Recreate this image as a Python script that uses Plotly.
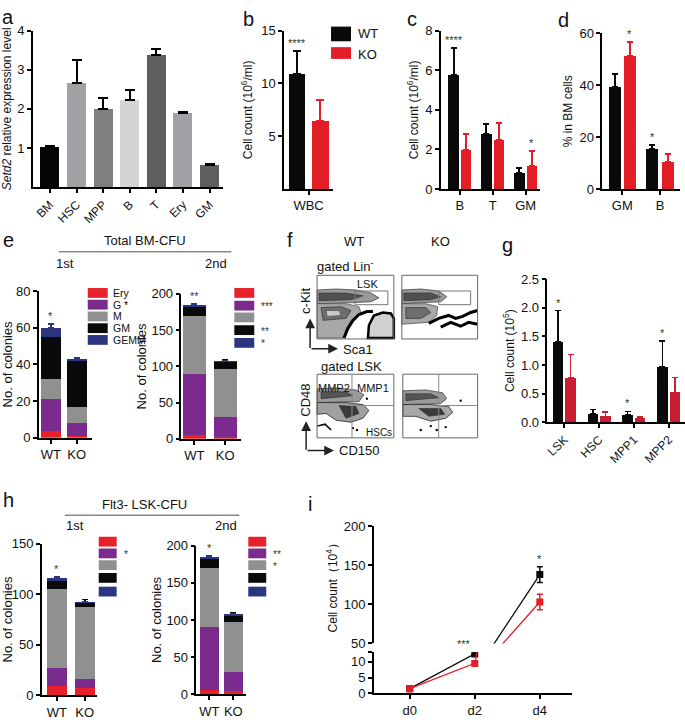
import plotly.graph_objects as go

W, H = 685, 722
FONT = "Arial, Liberation Sans, sans-serif"
RED = "#e41e26"
RED_G = "#c81e32"
BLACK = "#0a0a0a"
PURPLE = "#7b2b8d"
GRAY_M = "#909090"
NAVY = "#2c3680"
ERY = "#e8202a"

# ---------------- data ----------------
a_cats = ["BM", "HSC", "MPP", "B", "T", "Ery", "GM"]
a_vals = [1.02, 2.65, 2.0, 2.22, 3.37, 1.9, 0.57]
a_err = [0.03, 0.6, 0.28, 0.25, 0.17, 0.03, 0.03]
a_colors = ["#050505", "#a2a2a6", "#7f7f7f", "#d4d4d4", "#5e5e5e", "#a2a2a6", "#5e5e5e"]

b_cats = ["WBC"]
b_wt = [10.9]
b_wt_err = [2.2]
b_ko = [6.4]
b_ko_err = [2.0]

c_cats = ["B", "T", "GM"]
c_wt = [5.75, 2.77, 0.82]
c_wt_err = [1.35, 0.5, 0.26]
c_ko = [1.98, 2.5, 1.17]
c_ko_err = [0.82, 0.85, 0.73]

d_cats = ["GM", "B"]
d_wt = [39.2, 15.5]
d_wt_err = [5.3, 1.5]
d_ko = [51.3, 10.4]
d_ko_err = [5.4, 3.1]

cfu_types = ["Ery", "G", "M", "GM", "GEMM"]
geno = ["WT", "KO"]
e1_wt = [4, 17, 11, 23, 5]
e1_ko = [1, 7, 9, 25, 1]
e1_wt_err = [3, 4, 3, 2, 2]
e1_ko_err = [0.5, 1, 3, 1.5, 0.5]
e2_wt = [5, 85, 80, 13, 2]
e2_ko = [3, 27, 67, 10, 0.5]
e2_wt_err = [3, 3, 5, 2, 1]
e2_ko_err = [1, 8, 2, 2, 0.5]

g_cats = ["LSK", "HSC", "MPP1", "MPP2"]
g_wt = [1.4, 0.14, 0.13, 0.97]
g_wt_err = [0.55, 0.08, 0.06, 0.45]
g_ko = [0.78, 0.1, 0.07, 0.52]
g_ko_err = [0.4, 0.08, 0.03, 0.26]

h1_wt = [9, 18, 78, 8, 3]
h1_ko = [7, 9, 71, 5, 0.5]
h1_wt_err = [2, 5, 2, 4, 1]
h1_ko_err = [1, 2, 2, 3, 0.5]
h2_wt = [6, 84, 80, 13, 2]
h2_ko = [4, 26, 67, 10, 0.5]
h2_wt_err = [3, 4, 6, 2, 1]
h2_ko_err = [1, 9, 2, 3, 0.5]

i_days = ["d0", "d2", "d4"]
i_wt = [1.5, 12.5, 138]
i_wt_err = [0.3, 0.5, 10]
i_ko = [1.5, 9.5, 103]
i_ko_err = [0.3, 0.5, 10]

cfu_colors = [ERY, PURPLE, GRAY_M, BLACK, NAVY]

# ---------------- helpers ----------------
fig = go.Figure()
axes = {}
shapes = []
annos = []


def PX(x):
    return x / W


def PY(y):
    return 1 - y / H


def axis_style(**kw):
    d = dict(showline=True, linecolor="black", linewidth=1.5, ticks="outside",
             ticklen=4, tickwidth=1.5, tickcolor="black", showgrid=False,
             zeroline=False, tickfont=dict(size=12, color="#111"), fixedrange=True,
             title_font=dict(size=12, color="#111"))
    d.update(kw)
    return d


def panel(n, xpx, ypx, xrange, yrange, xkw=None, ykw=None):
    xs = "" if n == 1 else str(n)
    axes["xaxis" + xs] = axis_style(domain=[PX(xpx[0]), PX(xpx[1])], range=xrange,
                                    anchor="y" + xs, **(xkw or {}))
    axes["yaxis" + xs] = axis_style(domain=[PY(ypx[1]), PY(ypx[0])], range=yrange,
                                    anchor="x" + xs, **(ykw or {}))
    return "x" + xs, "y" + xs


def err(arr, color, th=1.5, w=3):
    return dict(type="data", array=arr, arrayminus=[0] * len(arr), symmetric=False,
                color=color, thickness=th, width=w)


def star(xa, ya, x, y, text, size=11):
    annos.append(dict(x=x, y=y, xref=xa, yref=ya, text=text, showarrow=False,
                      yanchor="bottom", yshift=0, font=dict(size=size, color="#333")))


def label(x, y, text, size=12, xanchor="center", yanchor="middle", angle=0, color="#111"):
    annos.append(dict(x=PX(x), y=PY(y), xref="paper", yref="paper", text=text,
                      showarrow=False, xanchor=xanchor, yanchor=yanchor,
                      textangle=angle, font=dict(size=size, color=color)))


def rect(x0, y0, x1, y1, fill=None, line="black", lw=1):
    shapes.append(dict(type="rect", xref="paper", yref="paper", x0=PX(x0), x1=PX(x1),
                       y0=PY(y0), y1=PY(y1), fillcolor=fill or "rgba(0,0,0,0)",
                       line=dict(color=line, width=lw)))


def line(x0, y0, x1, y1, color="black", lw=1):
    shapes.append(dict(type="line", xref="paper", yref="paper", x0=PX(x0), x1=PX(x1),
                       y0=PY(y0), y1=PY(y1), line=dict(color=color, width=lw)))


def poly(pts, fill=None, color="black", lw=1, closed=True):
    path = "M " + " L ".join(f"{PX(x):.5f},{PY(y):.5f}" for x, y in pts)
    if closed:
        path += " Z"
    shapes.append(dict(type="path", xref="paper", yref="paper", path=path,
                       fillcolor=fill if (fill and closed) else "rgba(0,0,0,0)",
                       line=dict(color=color, width=lw)))


def dot(x, y, r=1.2):
    shapes.append(dict(type="circle", xref="paper", yref="paper", x0=PX(x - r), x1=PX(x + r),
                       y0=PY(y + r), y1=PY(y - r), fillcolor="black", line=dict(width=0)))


def arrow(x0, y0, x1, y1):
    annos.append(dict(x=PX(x1), y=PY(y1), ax=x0 - x1, ay=y0 - y1, xref="paper", yref="paper",
                      axref="pixel", ayref="pixel", text="", showarrow=True,
                      arrowhead=2, arrowsize=1.3, arrowwidth=1.5, arrowcolor="#222"))


# ---------------- panel a ----------------
xa, ya = panel(1, (31, 222), (24, 184), [-0.64, 6.52], [0, 4],
               xkw=dict(tickvals=list(range(len(a_cats))), ticktext=a_cats, tickangle=-45),
               ykw=dict(tickvals=[1, 2, 3, 4], tickfont=dict(size=13),
                        title=dict(text="<i>Setd2</i> relative expression level", standoff=6)))
fig.add_trace(go.Bar(x=list(range(len(a_cats))), y=a_vals, width=0.71, marker_color=a_colors,
                     marker_line_width=0, error_y=err(a_err, "black", 2, 5),
                     xaxis=xa, yaxis=ya, showlegend=False))

# ---------------- panel b ----------------
xb, yb = panel(2, (283, 332), (24, 186), [-0.55, 0.55], [0, 15],
               xkw=dict(tickvals=[0], ticktext=b_cats, tickfont=dict(size=13)),
               ykw=dict(tickvals=[5, 10, 15], tickfont=dict(size=13),
                        title=dict(text="Cell count (10<sup>6</sup>/ml)", standoff=6)))
fig.add_trace(go.Bar(x=[-0.26], y=b_wt, width=0.38, marker_color=BLACK, marker_line_width=0,
                     error_y=err(b_wt_err, BLACK, 2, 4), xaxis=xb, yaxis=yb, showlegend=False))
fig.add_trace(go.Bar(x=[0.26], y=b_ko, width=0.38, marker_color=RED, marker_line_width=0,
                     error_y=err(b_ko_err, RED, 2, 4), xaxis=xb, yaxis=yb, showlegend=False))
star(xb, yb, -0.26, b_wt[0] + b_wt_err[0], "****")
rect(330, 20, 350, 35, fill=BLACK, line=BLACK, lw=0)
rect(330, 41, 350, 53, fill=RED, line=RED, lw=0)
label(355, 27, "WT", 13, xanchor="left")
label(355, 48, "KO", 13, xanchor="left")

# ---------------- panel c ----------------
xc, yc = panel(3, (440, 540), (24, 186), [-0.58, 2.45], [0, 8],
               xkw=dict(tickvals=[0, 1, 2], ticktext=c_cats, tickfont=dict(size=13)),
               ykw=dict(tickvals=[0, 2, 4, 6, 8], tickfont=dict(size=13),
                        title=dict(text="Cell count (10<sup>6</sup>/ml)", standoff=4)))
cx = list(range(len(c_cats)))
fig.add_trace(go.Bar(x=[i - 0.19 for i in cx], y=c_wt, width=0.32, marker_color=BLACK,
                     marker_line_width=0, error_y=err(c_wt_err, BLACK, 2, 3),
                     xaxis=xc, yaxis=yc, showlegend=False))
fig.add_trace(go.Bar(x=[i + 0.19 for i in cx], y=c_ko, width=0.32, marker_color=RED,
                     marker_line_width=0, error_y=err(c_ko_err, RED, 2, 3),
                     xaxis=xc, yaxis=yc, showlegend=False))
star(xc, yc, -0.19, c_wt[0] + c_wt_err[0], "****")
star(xc, yc, 2.19, c_ko[2] + c_ko_err[2], "*")

# ---------------- panel d ----------------
xd, yd = panel(4, (602, 680), (27, 186), [-0.53, 1.53], [0, 60],
               xkw=dict(tickvals=[0, 1], ticktext=d_cats, tickfont=dict(size=13)),
               ykw=dict(tickvals=[0, 20, 40, 60], tickfont=dict(size=13),
                        title=dict(text="% in BM cells", standoff=4)))
dx = list(range(len(d_cats)))
fig.add_trace(go.Bar(x=[i - 0.2 for i in dx], y=d_wt, width=0.32, marker_color=BLACK,
                     marker_line_width=0, error_y=err(d_wt_err, BLACK, 2, 3),
                     xaxis=xd, yaxis=yd, showlegend=False))
fig.add_trace(go.Bar(x=[i + 0.2 for i in dx], y=d_ko, width=0.32, marker_color=RED,
                     marker_line_width=0, error_y=err(d_ko_err, RED, 2, 3),
                     xaxis=xd, yaxis=yd, showlegend=False))
star(xd, yd, 0.2, d_ko[0] + d_ko_err[0], "*")
star(xd, yd, 0.8, d_wt[1] + d_wt_err[1], "*")


# ---------------- stacked CFU panels ----------------
def stacked(n, xpx, ypx, xr, yr, ytv, wt, ko, wt_err, ko_err, width, top_star):
    xs, ys = panel(n, xpx, ypx, xr, yr,
                   xkw=dict(tickvals=[0, 1], ticktext=geno, tickfont=dict(size=13)),
                   ykw=dict(tickvals=ytv, tickfont=dict(size=13),
                            title=dict(text="No. of colonies", font=dict(size=13), standoff=2)))
    for k, t in enumerate(cfu_types):
        fig.add_trace(go.Bar(x=[0, 1], y=[wt[k], ko[k]], width=width, marker_color=cfu_colors[k],
                             marker_line_width=0,
                             error_y=err([wt_err[k], ko_err[k]], cfu_colors[k], 1.5, 3),
                             xaxis=xs, yaxis=ys, showlegend=False, name=t))
    star(xs, ys, 0, sum(wt) + wt_err[-1], top_star)
    return xs, ys


stacked(5, (37, 90), (290, 440), [-0.46, 1.58], [0, 80], [0, 20, 40, 60, 80],
        e1_wt, e1_ko, e1_wt_err, e1_ko_err, 0.77, "*")
stacked(6, (180, 240), (293, 441), [-0.42, 1.52], [0, 200], [0, 50, 100, 150, 200],
        e2_wt, e2_ko, e2_wt_err, e2_ko_err, 0.74, "**")
stacked(8, (40, 95), (548, 703), [-0.54, 1.43], [0, 150], [0, 50, 100, 150],
        h1_wt, h1_ko, h1_wt_err, h1_ko_err, 0.71, "*")
stacked(9, (195, 245), (550, 702), [-0.54, 1.54], [0, 200], [0, 50, 100, 150, 200],
        h2_wt, h2_ko, h2_wt_err, h2_ko_err, 0.79, "*")


def cfu_legend(x0, ys, texts, marks, w=20, h=10):
    for k, y in enumerate(ys):
        rect(x0, y - h / 2, x0 + w, y + h / 2, fill=cfu_colors[k], line=cfu_colors[k], lw=0)
        if texts and texts[k]:
            label(x0 + w + 3, y, texts[k], 10.5, xanchor="left")
        if marks and marks[k]:
            label(x0 + w + 5, y + 1, marks[k], 10, xanchor="left", color="#333")


cfu_legend(86, [292, 304, 316, 328, 340], ["Ery", "G *", "M", "GM", "GEMM"], None)
cfu_legend(233, [292, 305, 317, 330, 343], None, ["", "***", "", "**", "*"])
cfu_legend(97, [546, 558, 570, 583, 597], None, ["", "*", "", "", ""], w=18)
cfu_legend(247, [546, 558, 570, 583, 597], None, ["", "**", "*", "", ""], w=18)

label(143, 238, "Total BM-CFU", 13)
line(57, 250, 230, 250, "#888", 1.5)
label(63, 262, "1st", 13)
label(215, 262, "2nd", 13)
label(143, 508, "Flt3- LSK-CFU", 13)
line(63, 519, 238, 519, "#888", 1.5)
label(73, 530, "1st", 13)
label(225, 530, "2nd", 13)

# ---------------- panel g ----------------
xg, yg = panel(7, (547, 685), (278, 424), [-0.49, 3.47], [0, 2.5],
               xkw=dict(tickvals=[0, 1, 2, 3], ticktext=g_cats, tickangle=-45),
               ykw=dict(tickvals=[0, 0.5, 1.0, 1.5, 2.0, 2.5], tickformat=".1f",
                        tickfont=dict(size=13),
                        title=dict(text="Cell count (10<sup>5</sup>)", standoff=4)))
gx = list(range(len(g_cats)))
fig.add_trace(go.Bar(x=[i - 0.18 for i in gx], y=g_wt, width=0.3, marker_color=BLACK,
                     marker_line_width=0, error_y=err(g_wt_err, BLACK, 1.5, 3),
                     xaxis=xg, yaxis=yg, showlegend=False))
fig.add_trace(go.Bar(x=[i + 0.18 for i in gx], y=g_ko, width=0.3, marker_color=RED_G,
                     marker_line_width=0, error_y=err(g_ko_err, RED_G, 1.5, 3),
                     xaxis=xg, yaxis=yg, showlegend=False))
for k in (0, 2, 3):
    star(xg, yg, k - 0.18, g_wt[k] + g_wt_err[k], "*")

# ---------------- panel i ----------------
xi, yi = panel(10, (373, 572), (659, 701), [-0.55, 2.5], [0, 13],
               xkw=dict(tickvals=[0, 1, 2], ticktext=i_days, tickfont=dict(size=13)),
               ykw=dict(tickvals=[0, 5, 10, 13], ticktext=["0", "5", "10", ""],
                        tickfont=dict(size=13)))
axes["yaxis11"] = axis_style(domain=[PY(650), PY(530)], range=[50, 200], anchor="x10",
                             tickvals=[50, 100, 150, 200], tickfont=dict(size=13),
                             title=dict(text="Cell count\uff0810<sup>4</sup>\uff09", standoff=4))
for yax in (yi, "y11"):
    fig.add_trace(go.Scatter(x=[0, 1, 2], y=i_wt, mode="lines+markers",
                             line=dict(color=BLACK, width=1.3),
                             marker=dict(symbol="square", size=7, color=BLACK),
                             error_y=dict(type="data", array=i_wt_err, color=BLACK,
                                          thickness=1.5, width=3),
                             xaxis=xi, yaxis=yax, showlegend=False))
    fig.add_trace(go.Scatter(x=[0, 1, 2], y=i_ko, mode="lines+markers",
                             line=dict(color=RED, width=1.3),
                             marker=dict(symbol="square", size=7, color=RED),
                             error_y=dict(type="data", array=i_ko_err, color=RED,
                                          thickness=1.5, width=3),
                             xaxis=xi, yaxis=yax, showlegend=False))
annos.append(dict(x=1, y=i_wt[1], xref=xi, yref=yi, text="***", showarrow=False,
                  xanchor="right", yanchor="bottom", xshift=-2, yshift=2,
                  font=dict(size=11, color="#333")))
star(xi, "y11", 2, i_wt[2] + i_wt_err[2], "*")

# ---------------- panel f (flow cytometry sketches) ----------------
label(353, 239, "WT", 13)
label(440, 239, "KO", 13)
label(345, 265, "gated Lin<sup>-</sup>", 13)
label(351, 367, "gated LSK", 13)
# top WT
poly([(316, 289), (335, 288), (355, 289), (370, 292), (378, 297), (370, 301), (350, 302),
      (316, 303)], fill="#9a9a9a", color="#333", lw=0.7)
poly([(318, 292), (345, 292), (362, 295), (350, 299), (318, 300)], fill="#505050",
     color="#222", lw=0.5)
poly([(316, 303), (345, 303), (358, 306), (360, 312), (350, 320), (345, 330), (342, 338),
      (316, 338)], fill="#a8a8a8", color="#444", lw=0.7)
poly([(320, 307), (340, 306), (350, 310), (345, 318), (322, 320)], fill="#6e6e6e",
     color="#222", lw=0.6)
poly([(325, 310), (338, 310), (340, 315), (326, 316)], fill="#c8c8c8", color="#333", lw=0.5)
poly([(343, 338), (347, 328), (352, 320), (358, 314), (366, 311), (372, 311)],
     color="black", lw=3, closed=False)
poly([(367, 338), (368, 325), (373, 315), (382, 312), (390, 313), (393, 318), (393, 338)],
     fill="#d0d0d0", color="black", lw=2.5)
# top KO
poly([(401, 289), (420, 288), (438, 290), (446, 296), (440, 301), (401, 303)],
     fill="#9a9a9a", color="#333", lw=0.7)
poly([(403, 292), (430, 292), (440, 296), (430, 299), (403, 300)], fill="#505050",
     color="#222", lw=0.5)
poly([(401, 303), (425, 303), (437, 306), (436, 315), (428, 322), (401, 324)],
     fill="#a8a8a8", color="#444", lw=0.7)
poly([(405, 307), (425, 307), (430, 312), (420, 318), (405, 318)], fill="#6e6e6e",
     color="#222", lw=0.6)
poly([(428, 323), (438, 318), (448, 315), (455, 318), (462, 316), (470, 312), (477, 310)],
     color="black", lw=3, closed=False)
poly([(440, 327), (450, 322), (460, 326), (468, 322), (477, 324)],
     color="black", lw=3, closed=False)
rect(316, 274, 393, 339, line="#666", lw=1)
rect(401, 274, 477, 339, line="#666", lw=1)
rect(354, 290, 387, 304, line="#777", lw=1)
rect(438, 290, 470, 304, line="#777", lw=1)
label(367, 283, "LSK", 11)
label(305, 300, "c-Kit", 13, angle=-90)
arrow(309, 349, 309, 318)
arrow(309, 349, 337, 349)
label(340, 350, "Sca1", 13, xanchor="left")
# bottom WT
poly([(316, 390), (335, 389), (355, 391), (363, 396), (358, 403), (316, 404)],
     fill="#9a9a9a", color="#333", lw=0.7)
poly([(320, 393), (345, 393), (352, 397), (320, 400)], fill="#555", color="#222", lw=0.5)
poly([(316, 404), (345, 404), (362, 406), (368, 412), (362, 420), (350, 424), (335, 422),
      (325, 415), (316, 416)], fill="#a0a0a0", color="#222", lw=0.8)
poly([(338, 407), (355, 408), (358, 415), (345, 420)], fill="#3a3a3a", color="#222", lw=0.5)
poly([(316, 428), (324, 426), (330, 432)], color="black", lw=1.5, closed=False)
# bottom KO
poly([(402, 392), (425, 391), (442, 394), (446, 400), (440, 405), (402, 406)],
     fill="#9a9a9a", color="#333", lw=0.7)
poly([(405, 395), (430, 395), (438, 399), (405, 402)], fill="#555", color="#222", lw=0.5)
poly([(402, 406), (430, 406), (448, 408), (452, 414), (445, 420), (430, 423), (415, 418),
      (402, 418)], fill="#a8a8a8", color="#222", lw=0.8)
poly([(418, 410), (440, 410), (444, 416), (428, 418)], fill="#3a3a3a", color="#222", lw=0.5)
for (x, y) in [(366, 400), (352, 430), (356, 432), (460, 402), (430, 428), (436, 432),
               (445, 429), (420, 432)]:
    dot(x, y)
rect(316, 375, 393, 440, line="#666", lw=1)
rect(402, 375, 477, 440, line="#666", lw=1)
line(351, 375, 351, 440, "#888", 1)
line(351, 407, 393, 407, "#888", 1)
line(438, 375, 438, 440, "#888", 1)
line(438, 407, 477, 407, "#888", 1)
label(333, 389, "MMP2", 11)
label(372, 389, "MMP1", 11)
label(378, 435, "HSCs", 10)
label(305, 402, "CD48", 13, angle=-90)
arrow(305, 453, 305, 423)
arrow(305, 453, 333, 453)
label(336, 453, "CD150", 13, xanchor="left")

# ---------------- panel letters ----------------
for (x, y, t) in [(6, 10, "a"), (247, 12, "b"), (411, 12, "c"), (563, 13, "d"),
                  (7, 238, "e"), (289, 238, "f"), (507, 243, "g"), (7, 503, "h"),
                  (309, 508, "i")]:
    label(x, y, t, 20)

fig.update_layout(
    width=W, height=H, margin=dict(l=0, r=0, t=0, b=0),
    paper_bgcolor="white", plot_bgcolor="white",
    font=dict(family=FONT, color="#111", size=12),
    barmode="stack", showlegend=False,
    shapes=shapes, annotations=annos, **axes,
)
fig.write_html("out.html", config={"displayModeBar": False},
               post_script="document.body.style.margin='0px';document.body.style.overflow='hidden';")
